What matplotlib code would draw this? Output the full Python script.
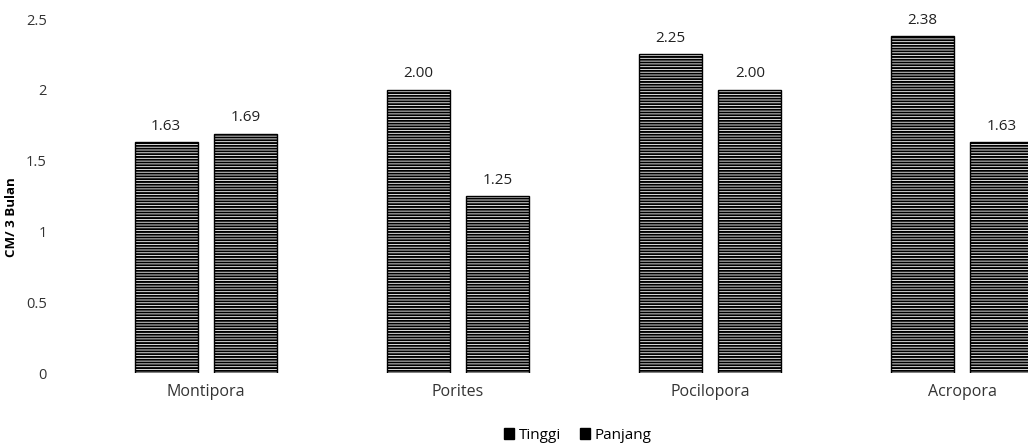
import numpy as np
import matplotlib.pyplot as plt

# %% Data
genus = ['Montipora', 'Porites', 'Pocilopora', 'Acropora']
tinggi = [1.63, 2.00, 2.25, 2.38]
panjang = [1.69, 1.25, 2.00, 1.63]

# %% Plot
plt.rcParams['font.family'] = ['Open Sans', 'DejaVu Sans']
plt.rcParams['hatch.linewidth'] = 1.4
plt.rcParams['hatch.color'] = 'black'

fig = plt.figure(figsize=(10.28, 4.43), dpi=100)
ax = fig.add_axes([0.0778, 0.158, 0.9805, 0.799])

x = np.arange(len(genus))
w = 0.25
off = 0.158
b1 = ax.bar(x - off, tinggi, w, color='white', edgecolor='black',
            hatch='------', linewidth=1.0, label='Tinggi')
b2 = ax.bar(x + off, panjang, w, color='white', edgecolor='black',
            hatch='------', linewidth=1.0, label='Panjang')

for bars, vals in [(b1, tinggi), (b2, panjang)]:
    for b, v in zip(bars, vals):
        ax.text(b.get_x() + b.get_width() / 2, v + 0.06, f'{v:.2f}',
                ha='center', va='bottom', fontsize=11, color='#222222')

ax.set_xlim(-0.5, 3.5)
ax.set_ylim(0, 2.5)
ax.set_yticks([0, 0.5, 1, 1.5, 2, 2.5])
ax.set_yticklabels(['0', '0.5', '1', '1.5', '2', '2.5'])
ax.set_xticks(x)
ax.set_xticklabels(genus)
ax.tick_params(length=0, labelsize=11.5, labelcolor='#333333', pad=8)
ax.tick_params(axis='y', labelsize=10.5, pad=24)
for s in ax.spines.values():
    s.set_visible(False)
ax.set_ylabel('CM/ 3 Bulan', fontsize=9.5, fontweight='bold')
ax.yaxis.set_label_coords(-0.061, 0.44)

# legend with plain black squares
h1 = plt.Rectangle((0, 0), 1, 1, color='black')
h2 = plt.Rectangle((0, 0), 1, 1, color='black')
fig.legend([h1, h2], ['Tinggi', 'Panjang'], loc='center', ncol=2,
           bbox_to_anchor=(0.562, 0.018), frameon=False, fontsize=11,
           handlelength=0.7, handleheight=0.7, handletextpad=0.3,
           columnspacing=1.2)

plt.savefig('out.png', dpi=100)
